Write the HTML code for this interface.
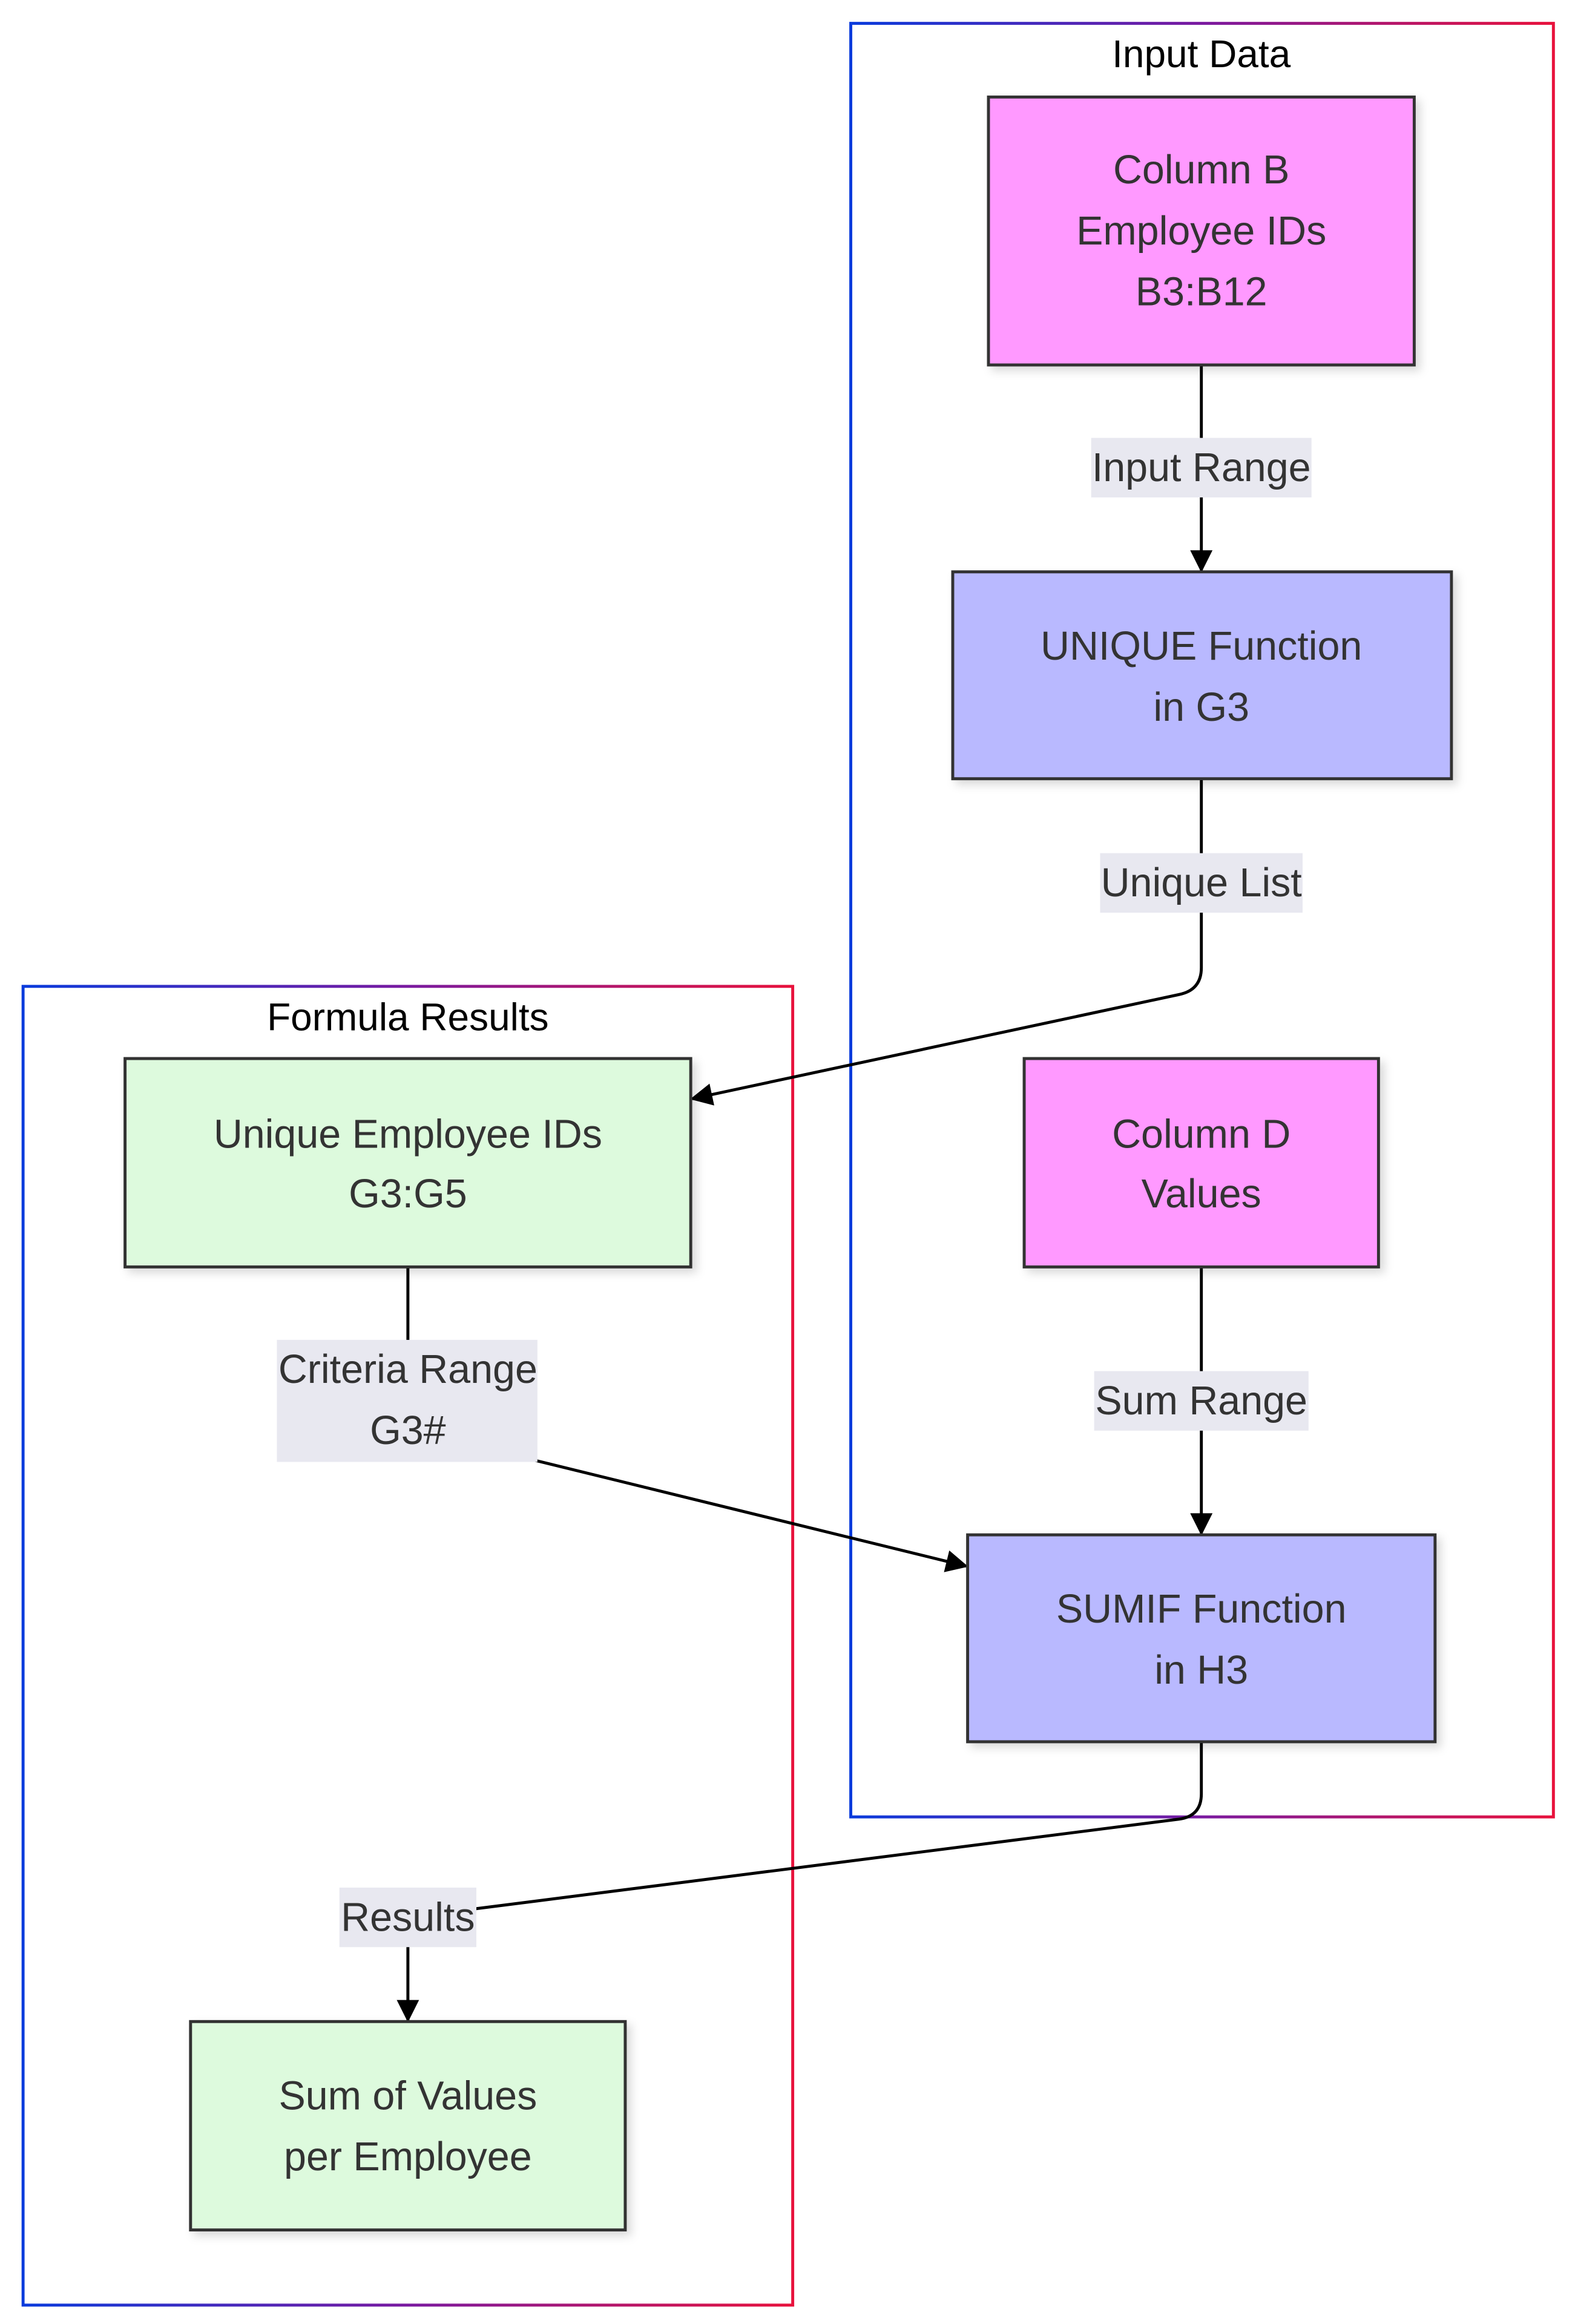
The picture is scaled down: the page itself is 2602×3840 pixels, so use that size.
<!DOCTYPE html>
<html><head><meta charset="utf-8"><style>html,body{margin:0;padding:0;background:#fff}svg{display:block}</style></head>
<body>
<svg width="2602" height="3840" viewBox="0 0 1058 1561" xmlns="http://www.w3.org/2000/svg" font-family="'Liberation Sans', Arial, sans-serif">
<defs>
<linearGradient id="g" x1="0" y1="0" x2="1" y2="0"><stop offset="0" stop-color="#0a3bdc"/><stop offset="0.5" stop-color="#7a1aa0"/><stop offset="1" stop-color="#e8123c"/></linearGradient>
<marker id="a" viewBox="0 0 10 10" refX="9" refY="5" markerWidth="17" markerHeight="15" markerUnits="userSpaceOnUse" orient="auto"><path d="M0,0L10,5L0,10z" fill="#000"/></marker>
<filter id="s" x="-10%" y="-10%" width="130%" height="130%"><feDropShadow dx="3" dy="3" stdDeviation="3" flood-color="#000" flood-opacity="0.15"/></filter>
</defs>
<rect x="571.5" y="15.5" width="472" height="1205" fill="none" stroke="url(#g)" stroke-width="2"/>
<rect x="15.5" y="662.5" width="517" height="886" fill="none" stroke="url(#g)" stroke-width="2"/>
<text x="807" y="45" font-size="26" text-anchor="middle" fill="#000">Input Data</text>
<text x="274" y="692" font-size="26" text-anchor="middle" fill="#000">Formula Results</text>
<g fill="none" stroke="#000" stroke-width="2">
<path d="M807,245V383" marker-end="url(#a)"/>
<path d="M807,523V650Q807,665 792,668L465,738" marker-end="url(#a)"/>
<path d="M807,851V1030" marker-end="url(#a)"/>
<path d="M274,851V960L649,1052" marker-end="url(#a)"/>
<path d="M807,1170V1205Q807,1220 792,1222L274,1288V1357" marker-end="url(#a)"/>
</g>
<g font-size="27" fill="#333" text-anchor="middle">
<rect x="733" y="294" width="148" height="40" fill="#e8e8f0"/><text x="807" y="323">Input Range</text>
<rect x="739" y="573" width="136" height="40" fill="#e8e8f0"/><text x="807" y="602">Unique List</text>
<rect x="735" y="921" width="144" height="40" fill="#e8e8f0"/><text x="807" y="950">Sum Range</text>
<rect x="186" y="900" width="175" height="82" fill="#e8e8f0"/><text x="274" y="929">Criteria Range</text><text x="274" y="970">G3#</text>
<rect x="228" y="1268" width="92" height="40" fill="#e8e8f0"/><text x="274" y="1297">Results</text>
</g>
<g stroke="#333" stroke-width="2" filter="url(#s)">
<rect x="664" y="65" width="286" height="180" fill="#ff99ff"/>
<rect x="640" y="384" width="335" height="139" fill="#b9b9ff"/>
<rect x="688" y="711" width="238" height="140" fill="#ff99ff"/>
<rect x="650" y="1031" width="314" height="139" fill="#b9b9ff"/>
<rect x="84" y="711" width="380" height="140" fill="#ddfadd"/>
<rect x="128" y="1358" width="292" height="140" fill="#ddfadd"/>
</g>
<g font-size="27" fill="#333" text-anchor="middle">
<text x="807" y="123">Column B</text><text x="807" y="164">Employee IDs</text><text x="807" y="205">B3:B12</text>
<text x="807" y="443">UNIQUE Function</text><text x="807" y="484">in G3</text>
<text x="807" y="771">Column D</text><text x="807" y="811">Values</text>
<text x="807" y="1090">SUMIF Function</text><text x="807" y="1131">in H3</text>
<text x="274" y="771">Unique Employee IDs</text><text x="274" y="811">G3:G5</text>
<text x="274" y="1417">Sum of Values</text><text x="274" y="1458">per Employee</text>
</g>
</svg>
</body></html>
